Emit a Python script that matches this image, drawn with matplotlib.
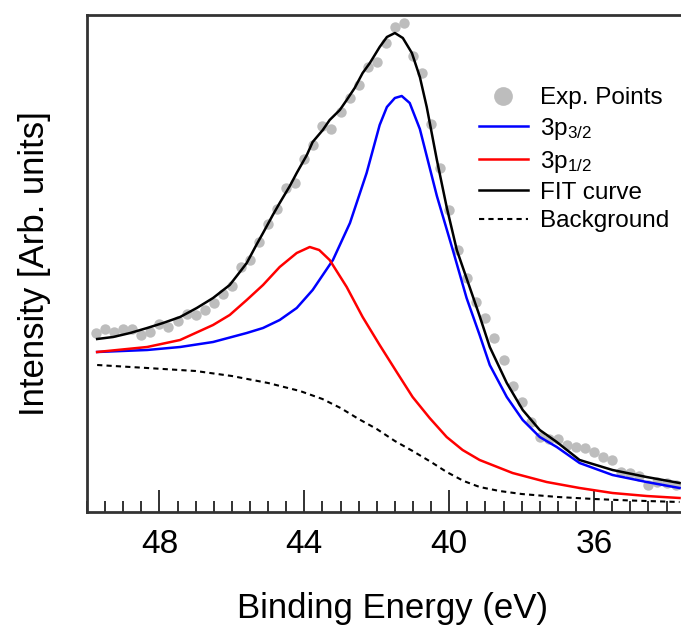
import matplotlib
matplotlib.use("Agg")
import matplotlib.pyplot as plt
import matplotlib.ticker as ticker

plt.rcParams['font.family'] = ['Liberation Sans', 'DejaVu Sans']
plt.rcParams['mathtext.default'] = 'regular'

# experimental points, every 0.25 eV from 49.75 down to 33.75
exp_energy = [49.75, 49.5, 49.25, 49.0, 48.75, 48.5, 48.25, 48.0, 47.75, 47.5,
              47.25, 47.0, 46.75, 46.5, 46.25, 46.0, 45.75, 45.5, 45.25, 45.0,
              44.75, 44.5, 44.25, 44.0, 43.75, 43.5, 43.25, 43.0, 42.75, 42.5,
              42.25, 42.0, 41.75, 41.5, 41.25, 41.0, 40.75, 40.5, 40.25, 40.0,
              39.75, 39.5, 39.25, 39.0, 38.75, 38.5, 38.25, 38.0, 37.75, 37.5,
              37.25, 37.0, 36.75, 36.5, 36.25, 36.0, 35.75, 35.5, 35.25, 35.0,
              34.75, 34.5, 34.25, 34.0, 33.75]
exp_int = [179, 183, 180, 183, 183, 177, 180, 188, 185, 191,
           198, 197, 202, 209, 218, 226, 245, 252, 270, 288,
           303, 324, 329, 353, 367, 386, 383, 400, 414, 427,
           445, 450, 469, 485, 489, 456, 439, 388, 344, 302,
           262, 234, 210, 194, 174, 152, 126, 110, 90, 75,
           73, 73, 67, 65, 64, 60, 55, 52, 40, 39,
           36, 27, 30, 29, 27]

# fit curve
fit_energy = [49.72, 49.28, 48.81, 48.34, 47.90, 47.43, 46.97, 46.52, 46.06, 45.78,
              45.59, 45.31, 45.14, 44.87, 44.68, 44.40, 44.21, 43.93, 43.77, 43.49,
              43.30, 43.02, 42.83, 42.61, 42.39, 42.19, 41.92, 41.72, 41.50, 41.28,
              41.03, 40.81, 40.62, 40.34, 40.07, 39.79, 39.16, 38.88, 38.41, 37.97,
              37.50, 37.03, 36.40, 35.49, 34.55, 33.64]
fit_int = [173, 175, 179, 184, 189, 195, 204, 214, 227, 240,
           249, 268, 279, 297, 309, 326, 339, 357, 370, 382,
           392, 402, 412, 424, 439, 449, 465, 475, 479, 474,
           459, 435, 405, 352, 305, 262, 196, 165, 129, 102,
           82, 70, 52, 42, 35, 29]

# 3p3/2 component
p32_energy = [49.72, 48.34, 47.43, 46.52, 45.59, 45.14, 44.68, 44.21, 43.77, 43.21,
              42.74, 42.28, 41.92, 41.72, 41.50, 41.31, 41.09, 40.81, 40.34, 39.90,
              39.52, 39.16, 38.88, 38.41, 37.97, 37.50, 37.03, 36.40, 35.49, 34.55,
              33.64]
p32_int = [160, 162, 165, 170, 179, 184, 192, 204, 222, 252,
           289, 339, 387, 405, 414, 416, 409, 383, 316, 262,
           214, 177, 147, 115, 92, 75, 65, 49, 37, 30,
           24]

# 3p1/2 component
p12_energy = [49.72, 48.34, 47.43, 46.52, 46.06, 45.59, 45.14, 44.68, 44.21, 43.85,
              43.59, 43.30, 42.83, 42.39, 41.92, 41.45, 41.01, 40.54, 40.07, 39.63,
              39.16, 38.25, 37.31, 36.40, 35.49, 34.55, 33.64]
p12_int = [160, 165, 172, 187, 197, 212, 227, 245, 259, 265,
           262, 252, 225, 195, 167, 140, 115, 94, 75, 62,
           52, 39, 30, 24, 19, 16, 14]

# background
bg_energy = [49.72, 48.34, 47.0, 46.0, 45.0, 44.12, 43.5, 43.0, 42.5, 42.0,
             41.5, 41.01, 40.5, 40.07, 39.6, 39.16, 38.61, 38.0, 37.0, 36.0,
             35.0, 33.64]
bg_int = [147, 144, 141, 136, 129, 121, 113, 104, 93, 83,
          71, 61, 50, 40, 31, 25, 21, 18, 15, 13,
          11.5, 10]

fig = plt.figure(figsize=(6.81, 6.28), dpi=100)
ax = fig.add_axes([87 / 681, 116 / 628, 1 - 87 / 681, 497 / 628])

ax.plot(exp_energy, exp_int, 'o', color='#bdbdbd', markersize=7.5, markeredgewidth=0,
        label='Exp. Points', zorder=1)
ax.plot(p32_energy, p32_int, color='#0000ff', lw=1.8, label='3p$_{3/2}$', zorder=3)
ax.plot(p12_energy, p12_int, color='#ff0000', lw=1.8, label='3p$_{1/2}$', zorder=3)
ax.plot(fit_energy, fit_int, color='black', lw=1.8, label='FIT curve', zorder=4)
ax.plot(bg_energy, bg_int, color='black', lw=1.5, linestyle=(0, (2.5, 2)),
        label='Background', zorder=2)

ax.set_xlim(50, 33.6)
ax.set_ylim(0, 497)
ax.set_yticks([])
ax.xaxis.set_major_locator(ticker.MultipleLocator(4))
ax.xaxis.set_minor_locator(ticker.MultipleLocator(0.5))
ax.tick_params(axis='x', which='major', direction='in', length=16, width=1.3,
               labelsize=24, pad=12, color='#222222')
ax.tick_params(axis='x', which='minor', direction='in', length=8, width=1.3,
               color='#222222')

for side in ['left', 'bottom', 'top']:
    ax.spines[side].set_linewidth(2)
    ax.spines[side].set_color('#333333')
ax.spines['right'].set_visible(False)

ax.set_xlabel('Binding Energy (eV)', fontsize=25)
ax.set_ylabel('Intensity [Arb. units]', fontsize=25)
ax.xaxis.set_label_coords(0.515, -0.16)
ax.yaxis.set_label_coords(-0.06, 0.5)

ax.legend(loc='upper left', bbox_to_anchor=(0.66, 0.855), frameon=False,
          fontsize=17.5, handlelength=2.0, handletextpad=0.5, labelspacing=0.28,
          borderpad=0, borderaxespad=0, markerscale=1.8)

plt.savefig('out.png', dpi=100)
